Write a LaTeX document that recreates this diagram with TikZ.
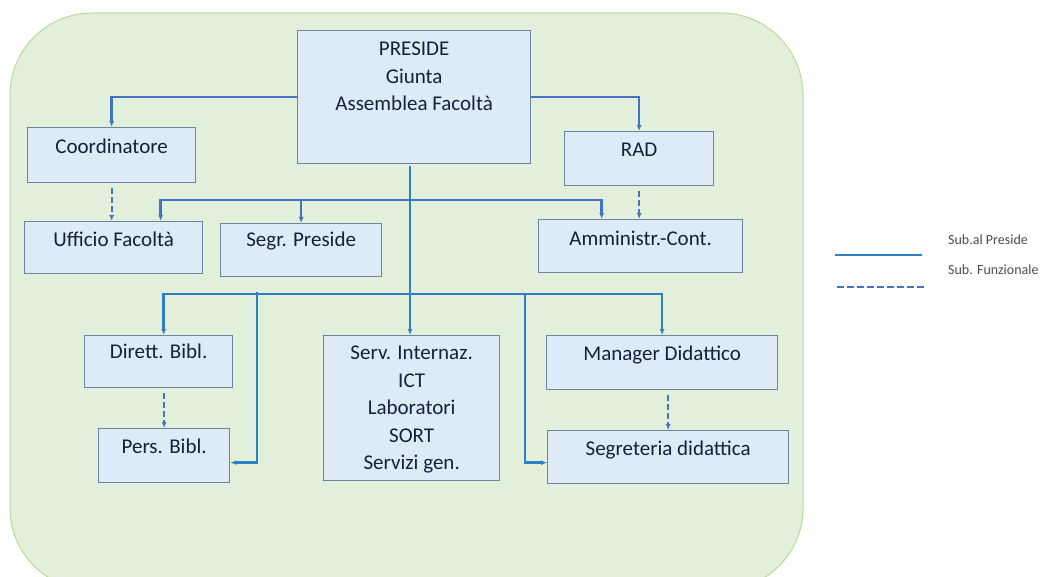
\documentclass[tikz,border=0pt]{standalone}
\usepackage{fontspec}
\setmainfont{Carlito}
\usetikzlibrary{arrows.meta}
\definecolor{bgfill}{HTML}{E2EFDA}
\definecolor{bgline}{HTML}{B9DA94}
\definecolor{boxfill}{HTML}{DDEBF7}
\definecolor{boxline}{HTML}{6C84A4}
\definecolor{subline}{HTML}{2F7FC6}
\definecolor{funcline}{HTML}{4472C4}
\definecolor{boxtext}{HTML}{15203C}

\begin{document}
\begin{tikzpicture}[x = 1pt, y = -1pt, >={Latex[length=6pt, width=5pt]},
    box/.style = {draw = boxline, fill = boxfill, line width = 1.3pt, inner sep = 0pt,
      anchor = north west, align = center, text = boxtext,
      font = \fontsize{21}{27.5}\selectfont},
    sub/.style = {->, draw = subline, line width = 2.5pt},
    func/.style = {->, draw = funcline, line width = 1.8pt, dash pattern = on 6pt off 3pt},
    legend/.style = {anchor = west, inner sep = 0pt, text = black!70,
      font = \fontsize{14}{16}\selectfont}]
    \useasboundingbox (0,0) rectangle (1057,577);
    \draw[fill = bgfill, draw = bgline, line width = 1pt, rounded corners = 82pt] (10,13) rectangle (803,590);
    % Boxes
    \node[box, minimum width = 233, text height = 80pt, text depth = 53pt] (preside) at (297,30) {PRESIDE\\Giunta\\Assemblea Facoltà};
    \node[box, minimum width = 168, text height = 26pt, text depth = 29pt] (coord) at (27,127) {Coordinatore};
    \node[box, minimum width = 149, text height = 25pt, text depth = 29pt] (rad) at (564,131) {RAD};
    \node[box, minimum width = 178, text height = 25pt, text depth = 27pt] (uff) at (24,221) {Ufficio Facoltà};
    \node[box, minimum width = 161, text height = 23pt, text depth = 30pt] (segr) at (220,223) {Segr. Preside};
    \node[box, minimum width = 204, text height = 26pt, text depth = 27pt] (amm) at (538,219) {Amministr.-Cont.};
    \node[box, minimum width = 148, text height = 23pt, text depth = 29pt] (dir) at (84,335) {Dirett. Bibl.};
    \node[box, minimum width = 131, text height = 25pt, text depth = 29pt] (pers) at (98,428) {Pers. Bibl.};
    \node[box, minimum width = 176, text height = 134pt, text depth = 11pt] (serv) at (323,335) {Serv. Internaz.\\ICT\\Laboratori\\SORT\\Servizi gen.};
    \node[box, minimum width = 231, text height = 25pt, text depth = 29pt] (man) at (546,335) {Manager Didattico};
    \node[box, minimum width = 241, text height = 25pt, text depth = 28pt] (segdid) at (547,430) {Segreteria didattica};
    % Lines
    \coordinate (top) at (410,166);
    \coordinate (busA) at (410,200);
    \coordinate (busB) at (410,294);
    \coordinate (tapL) at (257,292);
    \coordinate (tapR) at (525,294);
    \draw[sub, draw = funcline] (preside.west) -| (coord.north);
    \draw[sub, draw = funcline] (preside.east) -| (rad.north);
    \draw[sub] (top) -- (top |- serv.north);
    \draw[sub, draw = funcline] (busA) -| ([xshift = 47pt]uff.north);
    \draw[sub, draw = funcline] (busA) -| (segr.north);
    \draw[sub, draw = funcline] (busA) -| ([xshift = -39pt]amm.north);
    \draw[sub] (busB) -| ([xshift = 5pt]dir.north);
    \draw[sub] (busB) -| (man.north);
    \draw[sub] (tapL) |- ([yshift = -7pt]pers.east);
    \draw[sub] (tapR) |- ([yshift = -5.5pt]segdid.west);
    \draw[func] ([yshift = -5pt]coord.south) -- (coord.south |- uff.north);
    \draw[func] ([yshift = -5pt]rad.south) -- (rad.south |- amm.north);
    \draw[func] ([yshift = -5pt]pers.north |- dir.south) -- (pers.north);
    \draw[func] ([yshift = -5pt]segdid.north |- man.south) -- (segdid.north);
    % Legend
    \draw[subline, line width = 2.8pt] (835,255) -- (922,255);
    \draw[funcline, line width = 2pt, dash pattern = on 7pt off 3pt] (837,287) -- (925,287);
    \node[legend] (legsub) at (948,240) {Sub.al Preside};
    \node[legend] (legfunc) at (948,270) {Sub. Funzionale};
  \end{tikzpicture}
\end{document}
